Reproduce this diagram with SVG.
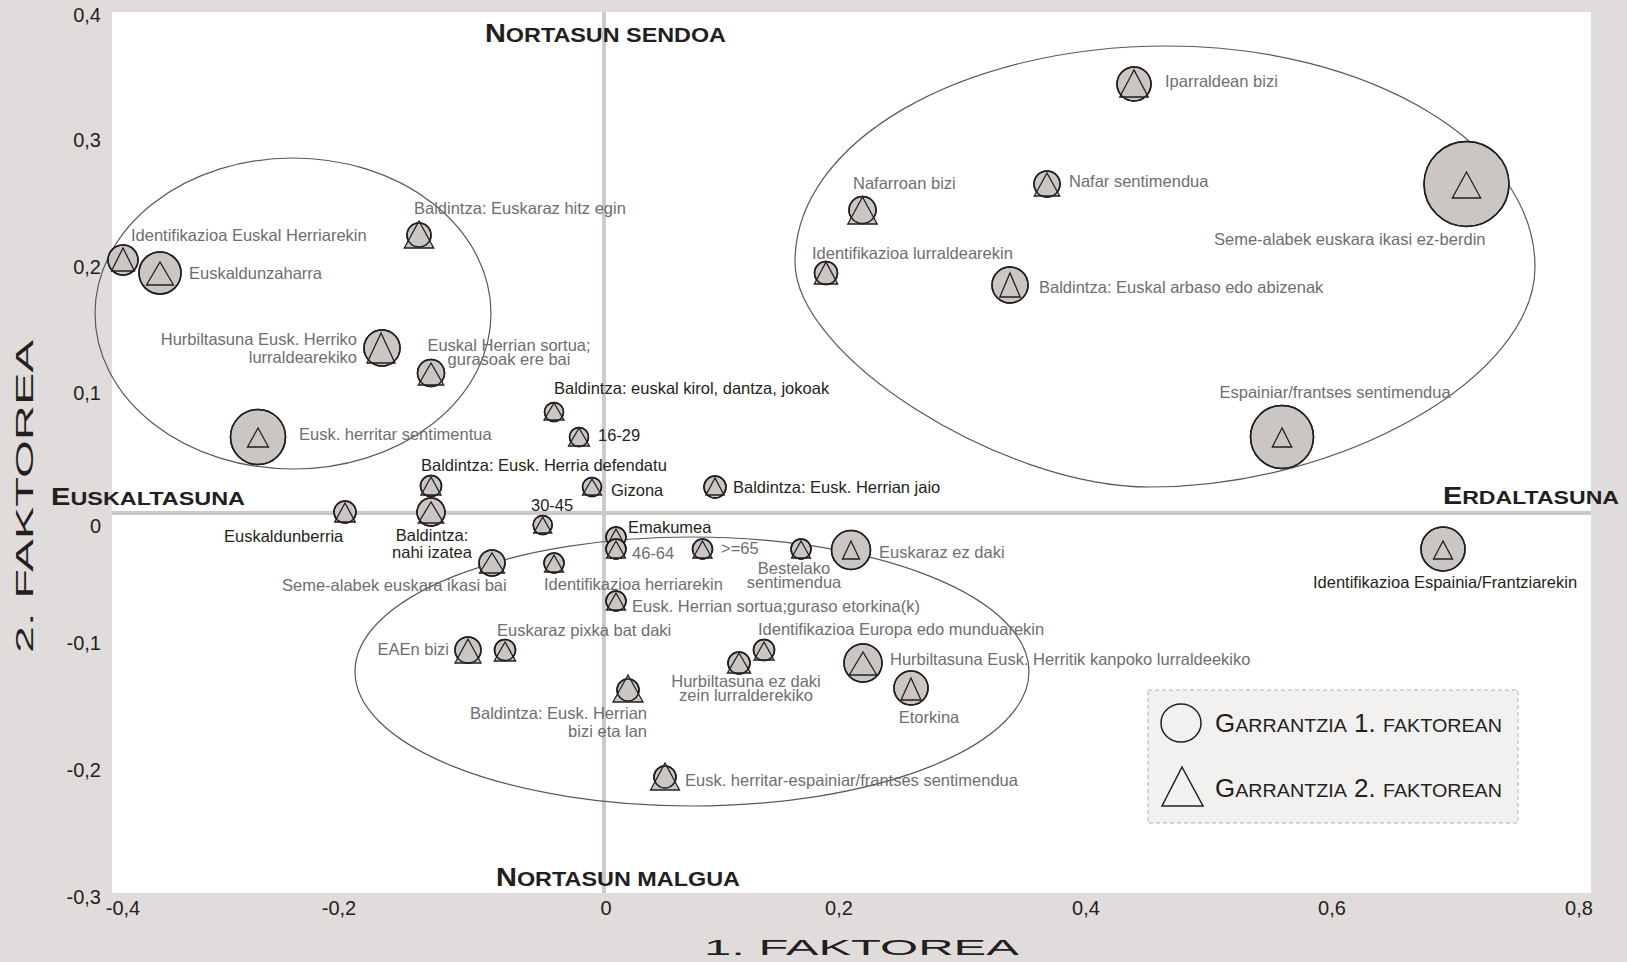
<svg xmlns="http://www.w3.org/2000/svg" width="1627" height="962" viewBox="0 0 1627 962">
<style>
text{font-family:"Liberation Sans",Arial,sans-serif}
.c{fill:#cac6c4;stroke:#231f20;stroke-width:1.5}
.t{fill:#cac6c4;stroke:#231f20;stroke-width:1.3}
.o{fill:none;stroke:#231f20;stroke-width:1.5}
.g{font-size:16.5px;fill:#6d6e71}
.b{font-size:16.5px;fill:#231f20}
.tk{font-size:20px;fill:#231f20}
.hd{font-weight:bold;fill:#231f20}
.ell{fill:none;stroke:#58595b;stroke-width:1.2}
.ax{stroke:#cdc7c6;stroke-width:3.8}
.m{text-anchor:middle}
.e{text-anchor:end}
</style>
<rect x="0" y="0" width="1627" height="962" fill="#e0dcdb"/>
<rect x="112" y="12" width="1479" height="881" fill="#ffffff"/>
<g id="axes">
<line class="ax" x1="604" y1="12" x2="604" y2="893"/>
<line class="ax" x1="112" y1="513" x2="1591" y2="513"/>
<g class="tk e">
<text x="101" y="22">0,4</text>
<text x="101" y="147">0,3</text>
<text x="101" y="274">0,2</text>
<text x="101" y="400">0,1</text>
<text x="101" y="533">0</text>
<text x="101" y="650">-0,1</text>
<text x="101" y="777">-0,2</text>
<text x="101" y="904">-0,3</text>
</g>
<g class="tk m">
<text x="123" y="915">-0,4</text>
<text x="339" y="915">-0,2</text>
<text x="606" y="915">0</text>
<text x="839" y="915">0,2</text>
<text x="1086" y="915">0,4</text>
<text x="1332" y="915">0,6</text>
<text x="1579" y="915">0,8</text>
</g>
<text x="704" y="955" font-size="21.5" fill="#231f20" textLength="315" lengthAdjust="spacingAndGlyphs">1. FAKTOREA</text>
<text transform="translate(33,653) rotate(-90)" x="0" y="0" font-size="24.5" fill="#231f20" textLength="313" lengthAdjust="spacingAndGlyphs">2. FAKTOREA</text>
</g>
<g id="regions">
<text class="hd" x="485" y="42" textLength="241" lengthAdjust="spacingAndGlyphs"><tspan font-size="26">N</tspan><tspan font-size="21">ORTASUN SENDOA</tspan></text>
<text class="hd" x="496" y="886" textLength="244" lengthAdjust="spacingAndGlyphs"><tspan font-size="26">N</tspan><tspan font-size="21">ORTASUN MALGUA</tspan></text>
<text class="hd" x="51" y="505" textLength="194" lengthAdjust="spacingAndGlyphs"><tspan font-size="23">E</tspan><tspan font-size="18.5">USKALTASUNA</tspan></text>
<text class="hd" x="1443" y="504" textLength="176" lengthAdjust="spacingAndGlyphs"><tspan font-size="23">E</tspan><tspan font-size="18.5">RDALTASUNA</tspan></text>
</g>
<g id="connectors">
<ellipse class="ell" cx="293" cy="313.5" rx="198" ry="155.5"/>
<path class="ell" d="M795,262 C795,141 962,46 1167,46 C1369,46 1535,145 1535,267 C1535,377 1342,487 1150,487 C1001,487 795,356 795,262 Z"/>
<ellipse class="ell" cx="692" cy="671.5" rx="337" ry="134.5"/>
</g>
<g id="n1"><circle class="c" cx="123" cy="260" r="15"/><polygon class="t" points="123,248 111.5,271 134.5,271"/><circle class="o" cx="123" cy="260" r="15"/><text class="g" x="131" y="241">Identifikazioa Euskal Herriarekin</text></g>
<g id="n2"><circle class="c" cx="160" cy="273" r="21"/><polygon class="t" points="160,262 146.5,285 173.5,285"/><circle class="o" cx="160" cy="273" r="21"/><text class="g" x="189" y="279">Euskaldunzaharra</text></g>
<g id="n3"><circle class="c" cx="419" cy="235" r="12"/><polygon class="t" points="419,221 404.3,248 433.7,248"/><circle class="o" cx="419" cy="235" r="12"/><text class="g" x="414" y="214">Baldintza: Euskaraz hitz egin</text></g>
<g id="n4"><circle class="c" cx="382" cy="348" r="18"/><polygon class="t" points="381,333 367,363 395,363"/><circle class="o" cx="382" cy="348" r="18"/><text class="g e" x="357" y="345">Hurbiltasuna Eusk. Herriko</text><text class="g e" x="357" y="363">lurraldearekiko</text></g>
<g id="n5"><circle class="c" cx="431" cy="373" r="13.5"/><polygon class="t" points="431,363 418.3,385 443.7,385"/><circle class="o" cx="431" cy="373" r="13.5"/><text class="g m" x="509" y="351">Euskal Herrian sortua;</text><text class="g m" x="509" y="365">gurasoak ere bai</text></g>
<g id="n6"><circle class="c" cx="258" cy="437" r="27.5"/><polygon class="t" points="258,428 247.5,447 268.5,447"/><circle class="o" cx="258" cy="437" r="27.5"/><text class="g" x="299" y="440">Eusk. herritar sentimentua</text></g>
<g id="n7"><circle class="c" cx="554" cy="412" r="9.5"/><polygon class="t" points="554,403 544,420 564,420"/><circle class="o" cx="554" cy="412" r="9.5"/><text class="b" x="554" y="394">Baldintza: euskal kirol, dantza, jokoak</text></g>
<g id="n8"><circle class="c" cx="579" cy="437" r="9.5"/><polygon class="t" points="579,428 568.5,446 589.5,446"/><circle class="o" cx="579" cy="437" r="9.5"/><text class="b" x="598" y="441">16-29</text></g>
<g id="n9"><circle class="c" cx="431" cy="486" r="10.5"/><polygon class="t" points="431,477 421,495 441,495"/><circle class="o" cx="431" cy="486" r="10.5"/><text class="b" x="421" y="471">Baldintza:  Eusk. Herria defendatu</text></g>
<g id="n10"><circle class="c" cx="592" cy="487" r="9.5"/><polygon class="t" points="592,479 582.5,495 601.5,495"/><circle class="o" cx="592" cy="487" r="9.5"/><text class="b" x="611" y="496">Gizona</text></g>
<g id="n11"><circle class="c" cx="715" cy="487" r="11"/><polygon class="t" points="715,478 706,495 724,495"/><circle class="o" cx="715" cy="487" r="11"/><text class="b" x="733" y="493">Baldintza: Eusk. Herrian jaio</text></g>
<g id="n12"><circle class="c" cx="345" cy="512" r="11"/><polygon class="t" points="345,503 334.7,522 355.3,522"/><circle class="o" cx="345" cy="512" r="11"/><text class="b" x="224" y="542">Euskaldunberria</text></g>
<g id="n13"><circle class="c" cx="431" cy="512" r="14"/><polygon class="t" points="431,502 418.3,523 443.7,523"/><circle class="o" cx="431" cy="512" r="14"/><text class="b m" x="432" y="541">Baldintza:</text><text class="b m" x="432" y="558">nahi izatea</text></g>
<g id="n14"><circle class="c" cx="542.7" cy="525" r="9.5"/><polygon class="t" points="542.7,517 533.7,533 551.7,533"/><circle class="o" cx="542.7" cy="525" r="9.5"/><text class="b" x="531" y="511">30-45</text></g>
<g id="n15"><circle class="c" cx="616" cy="537" r="10"/><polygon class="t" points="616,529 606.5,546 625.5,546"/><circle class="o" cx="616" cy="537" r="10"/><text class="b" x="628" y="533">Emakumea</text></g>
<g id="n16"><circle class="c" cx="616" cy="549" r="10"/><polygon class="t" points="616,541 606.5,558 625.5,558"/><circle class="o" cx="616" cy="549" r="10"/><text class="g" x="632" y="559">46-64</text></g>
<g id="n17"><circle class="c" cx="702.5" cy="549" r="10"/><polygon class="t" points="702.5,541 693,558 712,558"/><circle class="o" cx="702.5" cy="549" r="10"/><text class="g" x="721" y="554">&gt;=65</text></g>
<g id="n18"><circle class="c" cx="801" cy="549" r="10"/><polygon class="t" points="801,541 791.5,558 810.5,558"/><circle class="o" cx="801" cy="549" r="10"/><text class="g m" x="794" y="574">Bestelako</text><text class="g m" x="794" y="588">sentimendua</text></g>
<g id="n19"><circle class="c" cx="851" cy="550" r="19.5"/><polygon class="t" points="851,541 842.5,559 859.5,559"/><circle class="o" cx="851" cy="550" r="19.5"/><text class="g" x="879" y="558">Euskaraz ez daki</text></g>
<g id="n20"><circle class="c" cx="492" cy="563" r="13"/><polygon class="t" points="492,553 479.5,573 504.5,573"/><circle class="o" cx="492" cy="563" r="13"/><text class="g" x="282" y="591">Seme-alabek euskara ikasi bai</text></g>
<g id="n21"><circle class="c" cx="554" cy="563" r="10"/><polygon class="t" points="554,555 544.5,572 563.5,572"/><circle class="o" cx="554" cy="563" r="10"/><text class="g" x="544" y="590">Identifikazioa herriarekin</text></g>
<g id="n22"><circle class="c" cx="616" cy="601" r="10"/><polygon class="t" points="616,593 606.5,610 625.5,610"/><circle class="o" cx="616" cy="601" r="10"/><text class="g" x="632" y="612">Eusk. Herrian sortua;guraso etorkina(k)</text></g>
<g id="n23"><circle class="c" cx="764" cy="650" r="10.5"/><polygon class="t" points="764,642 754,660 774,660"/><circle class="o" cx="764" cy="650" r="10.5"/><text class="g" x="758" y="635">Identifikazioa Europa edo munduarekin</text></g>
<g id="n24"><circle class="c" cx="739" cy="663" r="11"/><polygon class="t" points="739,653 727.4,673 750.6,673"/><circle class="o" cx="739" cy="663" r="11"/><text class="g m" x="746" y="687">Hurbiltasuna ez daki</text><text class="g m" x="746" y="701">zein lurralderekiko</text></g>
<g id="n25"><circle class="c" cx="863" cy="663" r="19"/><polygon class="t" points="863,652 849.3,675 876.7,675"/><circle class="o" cx="863" cy="663" r="19"/><text class="g" x="890" y="665">Hurbiltasuna Eusk. Herritik kanpoko lurraldeekiko</text></g>
<g id="n26"><circle class="c" cx="911" cy="688" r="17"/><polygon class="t" points="911,678 901,700 921,700"/><circle class="o" cx="911" cy="688" r="17"/><text class="g m" x="929" y="723">Etorkina</text></g>
<g id="n27"><circle class="c" cx="628" cy="690" r="11"/><polygon class="t" points="628,675 613,702 643,702"/><circle class="o" cx="628" cy="690" r="11"/><text class="g e" x="647" y="719">Baldintza: Eusk. Herrian</text><text class="g e" x="647" y="737">bizi eta lan</text></g>
<g id="n28"><circle class="c" cx="665" cy="777" r="11"/><polygon class="t" points="665,763 650.5,790 679.5,790"/><circle class="o" cx="665" cy="777" r="11"/><text class="g" x="685" y="786">Eusk. herritar-espainiar/frantses sentimendua</text></g>
<g id="n29"><circle class="c" cx="468" cy="650" r="13"/><polygon class="t" points="468,639 455,663 481,663"/><circle class="o" cx="468" cy="650" r="13"/><text class="g e" x="449" y="655">EAEn bizi</text></g>
<g id="n30"><circle class="c" cx="505" cy="650" r="10.5"/><polygon class="t" points="505,642 494.3,661 515.7,661"/><circle class="o" cx="505" cy="650" r="10.5"/><text class="g" x="497" y="636">Euskaraz pixka bat daki</text></g>
<g id="n31"><circle class="c" cx="862.5" cy="210" r="13.5"/><polygon class="t" points="862.5,197 847.8,224 877.2,224"/><circle class="o" cx="862.5" cy="210" r="13.5"/><text class="g" x="853" y="189">Nafarroan bizi</text></g>
<g id="n32"><circle class="c" cx="826" cy="273" r="11.5"/><polygon class="t" points="826,262 814.3,284 837.7,284"/><circle class="o" cx="826" cy="273" r="11.5"/><text class="g" x="812" y="259">Identifikazioa lurraldearekin</text></g>
<g id="n33"><circle class="c" cx="1047" cy="184" r="13"/><polygon class="t" points="1047,173 1034.3,196 1059.7,196"/><circle class="o" cx="1047" cy="184" r="13"/><text class="g" x="1069" y="187">Nafar sentimendua</text></g>
<g id="n34"><circle class="c" cx="1010" cy="285" r="18"/><polygon class="t" points="1010,273 999.8,297 1020.2,297"/><circle class="o" cx="1010" cy="285" r="18"/><text class="g" x="1039" y="293">Baldintza: Euskal arbaso edo abizenak</text></g>
<g id="n35"><circle class="c" cx="1134" cy="84" r="17"/><polygon class="t" points="1134,70 1119.7,97 1148.3,97"/><circle class="o" cx="1134" cy="84" r="17"/><text class="g" x="1165" y="87">Iparraldean bizi</text></g>
<g id="n36"><circle class="c" cx="1466.5" cy="184" r="42.5"/><polygon class="t" points="1466.5,172 1452.3,198 1480.7,198"/><circle class="o" cx="1466.5" cy="184" r="42.5"/><text class="g" x="1214" y="245">Seme-alabek euskara ikasi ez-berdin</text></g>
<g id="n37"><circle class="c" cx="1282" cy="437" r="31.5"/><polygon class="t" points="1282,428 1272.3,447 1291.7,447"/><circle class="o" cx="1282" cy="437" r="31.5"/><text class="g" x="1219.5" y="398">Espainiar/frantses sentimendua</text></g>
<g id="n38"><circle class="c" cx="1443" cy="549" r="22"/><polygon class="t" points="1443,541 1433.5,559 1452.5,559"/><circle class="o" cx="1443" cy="549" r="22"/><text class="b" x="1313" y="588">Identifikazioa Espainia/Frantziarekin</text></g>
<g id="legend">
<rect x="1148" y="690" width="370" height="133" fill="#f2f1f0" stroke="#b3b1b0" stroke-width="1" stroke-dasharray="4,3"/>
<ellipse cx="1181" cy="723" rx="20" ry="19" fill="none" stroke="#231f20" stroke-width="1.5"/>
<polygon points="1182,767 1162,806 1203,806" fill="none" stroke="#231f20" stroke-width="1.5"/>
<text x="1215" y="732" fill="#231f20" textLength="287" lengthAdjust="spacingAndGlyphs"><tspan font-size="25">G</tspan><tspan font-size="19">ARRANTZIA</tspan><tspan font-size="25"> 1. </tspan><tspan font-size="19">FAKTOREAN</tspan></text>
<text x="1215" y="797" fill="#231f20" textLength="287" lengthAdjust="spacingAndGlyphs"><tspan font-size="25">G</tspan><tspan font-size="19">ARRANTZIA</tspan><tspan font-size="25"> 2. </tspan><tspan font-size="19">FAKTOREAN</tspan></text>
</g>
</svg>
